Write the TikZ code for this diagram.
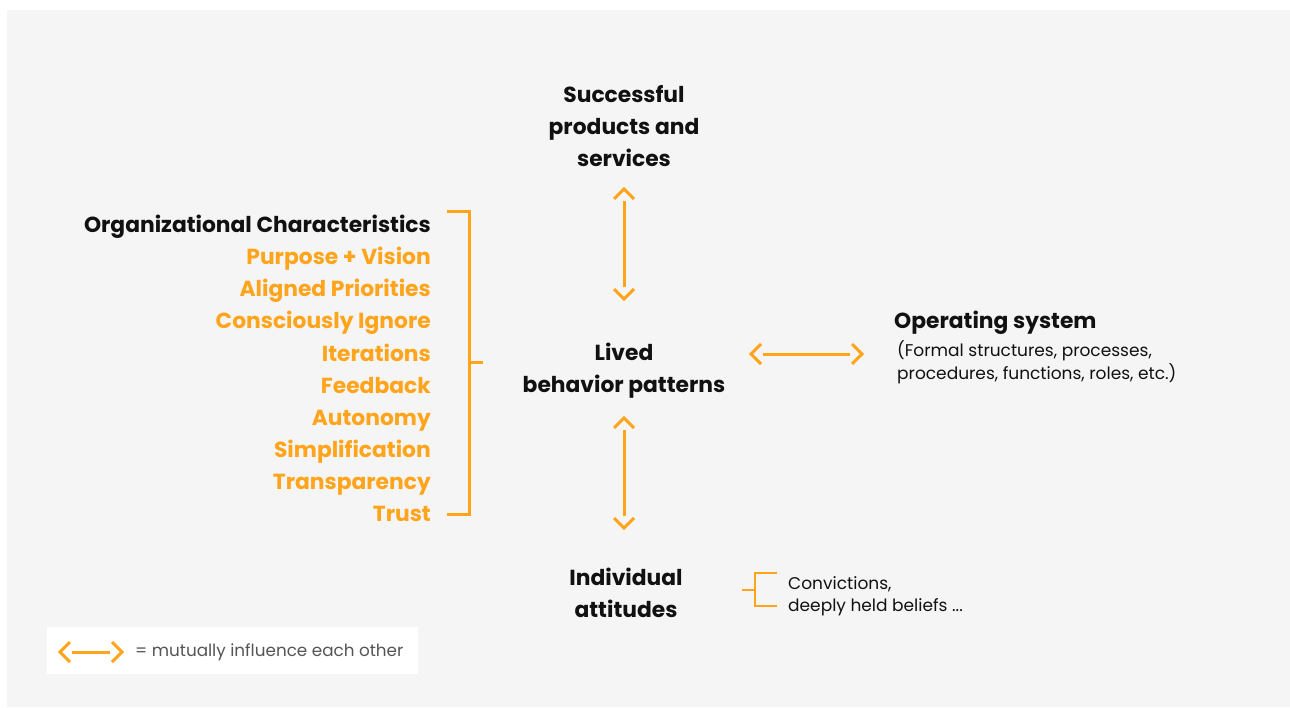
\documentclass[tikz,border=0pt]{standalone}
\usepackage{fontspec}
\setmainfont{Poppins}
\definecolor{org}{HTML}{FFA41B}
\definecolor{bg}{HTML}{F5F5F5}
\definecolor{ink}{HTML}{111111}
\definecolor{legendgray}{HTML}{555555}
\begin{document}
\begin{tikzpicture}[x=1pt,y=-1pt,
  bigbold/.style={font=\fontsize{21.8}{26}\selectfont\bfseries, text=ink, inner sep=0pt},
  orgtxt/.style={font=\fontsize{21.8}{26}\selectfont\bfseries, text=org, inner sep=0pt},
  smalltxt/.style={font=\fontsize{17}{21}\selectfont, text=ink, inner sep=0pt},
  legtxt/.style={font=\fontsize{16.8}{21}\selectfont, text=legendgray, inner sep=0pt},
  conn/.style={draw=org, line width=3pt, shorten <=12pt, shorten >=12pt},
  chevline/.style={draw=org, line width=3pt, line join=miter},
  brk/.style={draw=org, line width=3pt},
  chev/.pic={\draw[chevline] (-10,10) -- (0,0) -- (10,10);}
]
\useasboundingbox (0,0) rectangle (1290,707);
\fill[white] (0,0) rectangle (1290,707);
\fill[bg] (7,10) rectangle (1290,707);
\fill[white] (47,627) rectangle (418,674);

% center column
\node[bigbold, anchor=base] (s1) at (624,102) {Successful};
\node[bigbold, anchor=base] (s2) at (624,134) {products and};
\node[bigbold, anchor=base] (s3) at (624,166) {services};
\node[bigbold, anchor=base] (l1) at (624,360) {Lived};
\node[bigbold, anchor=base] (l2) at (624,392) {behavior patterns};
\node[bigbold, anchor=base] (i1) at (626,585) {Individual};
\node[bigbold, anchor=base] (i2) at (626,617) {attitudes};

% operating system
\node[bigbold, anchor=base west] (o1) at (894,328) {Operating system};
\node[smalltxt, anchor=base west] (o2) at (897,356) {(Formal structures, processes,};
\node[smalltxt, anchor=base west] (o3) at (897,379) {procedures, functions, roles, etc.)};

% left list
\node[bigbold, anchor=base east] (c0) at (431,232) {Organizational Characteristics};
\node[orgtxt, anchor=base east] (c1) at (431,264) {Purpose + Vision};
\node[orgtxt, anchor=base east] (c2) at (431,296) {Aligned Priorities};
\node[orgtxt, anchor=base east] (c3) at (431,328) {Consciously Ignore};
\node[orgtxt, anchor=base east] (c4) at (431,361) {Iterations};
\node[orgtxt, anchor=base east] (c5) at (431,393) {Feedback};
\node[orgtxt, anchor=base east] (c6) at (431,425) {Autonomy};
\node[orgtxt, anchor=base east] (c7) at (431,457) {Simplification};
\node[orgtxt, anchor=base east] (c8) at (431,489) {Transparency};
\node[orgtxt, anchor=base east] (c9) at (431,521) {Trust};

% convictions
\node[smalltxt, anchor=base west] (v1) at (788,589) {Convictions,};
\node[smalltxt, anchor=base west] (v2) at (788,611) {deeply held beliefs ...};

% legend
\node[legtxt, anchor=base west] (leg) at (135,656) {= mutually influence each other};

% arrow end coordinates
\coordinate (a1) at (624,189);
\coordinate (a2) at (624,299);
\coordinate (b1) at (624,418);
\coordinate (b2) at (624,528);
\coordinate (h1) at (751,354);
\coordinate (h2) at (862,354);
\coordinate (g1) at (60,652);
\coordinate (g2) at (122,652);

% vertical arrow top
\draw[conn] (a1) -- (a2);
\pic at (a1) {chev};
\pic[rotate=180] at (a2) {chev};
% vertical arrow bottom
\draw[conn] (b1) -- (b2);
\pic at (b1) {chev};
\pic[rotate=180] at (b2) {chev};
% horizontal arrow
\draw[conn] (h1) -- (h2);
\pic[rotate=90] at (h1) {chev};
\pic[rotate=-90] at (h2) {chev};
% legend arrow
\draw[conn] (g1) -- (g2);
\pic[rotate=90] at (g1) {chev};
\pic[rotate=-90] at (g2) {chev};

% brackets
\draw[brk] (447,211) -- (469,211) -- (469,514) -- (447,514);
\draw[brk] (469,362) -- (483,362);
\draw[brk, line width=2.5pt] (777,573) -- (755,573) -- (755,606) -- (777,606);
\draw[brk, line width=2.5pt] (742,590) -- (755,590);
\end{tikzpicture}
\end{document}
